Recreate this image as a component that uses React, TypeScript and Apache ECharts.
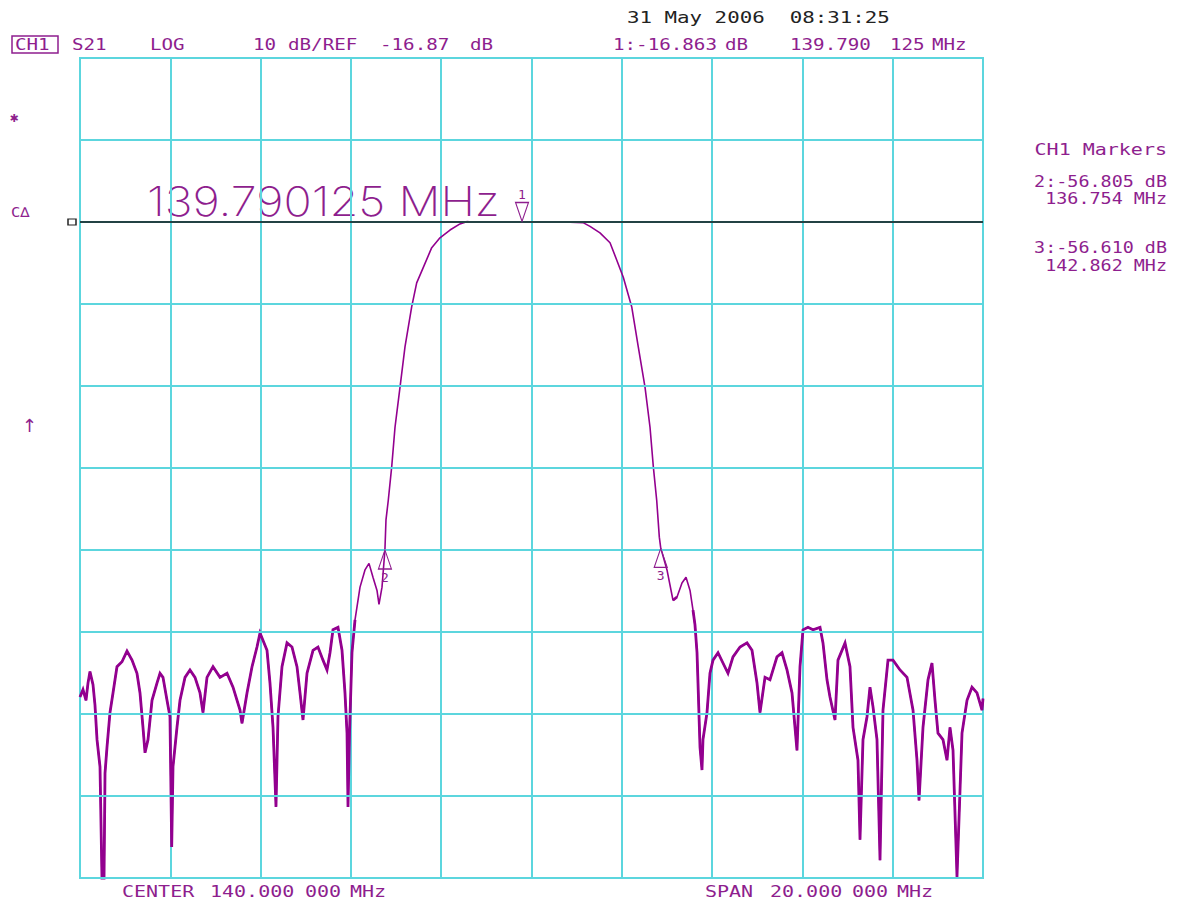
import React, { useEffect, useRef } from 'react';
import * as echarts from 'echarts';

// ---- Data (S21, LOG, 10 dB/div) ----
const FREQ_MHZ = [
  130.000, 130.066, 130.133, 130.177, 130.221, 130.288, 130.332, 130.377, 130.443, 130.487,
  130.532, 130.554, 130.598, 130.664, 130.731, 130.819, 130.930, 131.041, 131.152, 131.262,
  131.329, 131.395, 131.440, 131.506, 131.595, 131.705, 131.772, 131.838, 131.927, 131.993,
  132.031, 132.060, 132.148, 132.215, 132.326, 132.436, 132.547, 132.658, 132.724, 132.813,
  132.946, 133.101, 133.256, 133.389, 133.544, 133.588, 133.699, 133.810, 133.920, 133.987,
  134.142, 134.208, 134.275, 134.341, 134.385, 134.474, 134.585, 134.695, 134.806, 134.873,
  134.939, 135.028, 135.161, 135.271, 135.382, 135.471, 135.537, 135.603, 135.714, 135.803,
  135.869, 135.914, 135.936, 135.969, 136.024, 136.091, 136.202, 136.312, 136.401, 136.489,
  136.578, 136.622, 136.689, 136.754, 136.777, 136.828, 136.904, 136.977, 137.088, 137.198,
  137.347, 137.457, 137.604, 137.790, 137.973, 138.195, 138.416, 138.565, 138.748, 139.081,
  139.413, 139.790, 140.188, 140.520, 140.853, 141.141, 141.296, 141.517, 141.739, 141.887,
  142.033, 142.219, 142.365, 142.514, 142.625, 142.698, 142.773, 142.831, 142.862, 143.001,
  143.134, 143.223, 143.333, 143.422, 143.511, 143.577, 143.621, 143.666, 143.688, 143.732,
  143.776, 143.798, 143.887, 143.953, 144.020, 144.131, 144.241, 144.352, 144.463, 144.618,
  144.773, 144.884, 144.995, 145.061, 145.172, 145.282, 145.437, 145.548, 145.659, 145.770,
  145.836, 145.880, 145.947, 146.013, 146.124, 146.235, 146.390, 146.456, 146.545, 146.611,
  146.722, 146.788, 146.944, 147.054, 147.121, 147.231, 147.276, 147.342, 147.431, 147.497,
  147.564, 147.652, 147.719, 147.785, 147.896, 148.007, 148.162, 148.317, 148.450, 148.538,
  148.583, 148.671, 148.782, 148.870, 148.937, 149.003, 149.114, 149.203, 149.269, 149.336,
  149.424, 149.535, 149.646, 149.756, 149.867, 149.978, 150.000,
];
const S21_DB = [
  -74.8, -73.9, -75.2, -73.1, -71.7, -73.3, -75.8, -80.0, -83.3, -97.1,
  -97.1, -84.1, -80.9, -76.7, -74.3, -71.1, -70.5, -69.2, -70.3, -71.9,
  -74.3, -78.5, -81.6, -80.0, -75.2, -73.1, -71.9, -72.4, -75.2, -77.2,
  -93.1, -83.3, -78.5, -75.2, -72.4, -71.5, -72.4, -74.3, -76.7, -72.4,
  -71.1, -72.4, -71.9, -73.6, -76.4, -78.0, -74.3, -71.1, -68.7, -67.0,
  -69.1, -73.1, -78.5, -88.2, -77.2, -71.1, -68.2, -68.7, -71.1, -74.3,
  -77.6, -71.9, -69.1, -68.7, -70.3, -71.5, -69.4, -66.6, -66.3, -69.1,
  -74.3, -79.2, -88.2, -79.2, -69.4, -65.4, -61.4, -59.3, -58.5, -60.2,
  -61.8, -63.5, -61.4, -56.805, -53.2, -50.8, -46.7, -41.9, -37.0, -32.1,
  -27.2, -24.3, -22.4, -20.0, -18.8, -17.85, -17.1, -16.83, -16.9, -16.85,
  -16.9, -16.863, -16.88, -16.86, -16.9, -16.95, -17.4, -18.2, -19.4, -21.5,
  -23.6, -27.2, -32.1, -37.0, -41.9, -46.7, -50.8, -55.3, -56.61, -59.3,
  -63.0, -62.6, -60.9, -60.2, -61.8, -64.2, -66.0, -69.4, -73.1, -80.9,
  -83.7, -80.0, -76.7, -71.9, -70.3, -69.4, -70.65, -71.9, -69.9, -68.7,
  -68.2, -69.1, -73.1, -76.7, -72.4, -72.7, -69.9, -69.4, -71.5, -74.3,
  -78.5, -81.3, -71.1, -66.6, -66.3, -66.6, -66.3, -68.2, -72.7, -74.8,
  -77.6, -70.3, -68.2, -71.1, -78.5, -82.5, -92.2, -80.0, -77.2, -73.6,
  -76.0, -80.0, -94.7, -76.4, -70.3, -70.3, -71.5, -72.4, -76.4, -82.5,
  -87.4, -78.5, -72.7, -70.65, -75.2, -79.2, -80.0, -82.5, -78.5, -81.3,
  -96.75, -79.2, -75.2, -73.6, -74.3, -76.4, -75.0,
];

const MARKER_NAMES = ['1', '2', '3'];
const MARKER_FREQ_MHZ = [139.790125, 136.754, 142.862];
const MARKER_DB = [-16.863, -56.805, -56.61];

const START_MHZ = 130;
const STOP_MHZ = 150;
const FREQ_DIV_MHZ = 2;
const REF_DB = -16.87;
const DB_PER_DIV = 10;
const REF_DIV = 8; // reference position (divisions from bottom)
const N_DIV = 10;
const NOISE_FLOOR_DB = -62; // below this the trace is drawn as a fuzzy (thicker) noise line

const PURPLE = '#8e1e8e';
const TRACE = '#93008f';
const CYAN = '#5cd6de';
const MONO = '"DejaVu Sans Mono", monospace';

function txt(x: number, y: number, s: string, color: string, opts: any = {}) {
  const size = opts.size ?? 16;
  return {
    type: 'text',
    x,
    y,
    scaleX: opts.scaleX ?? 1.25,
    silent: true,
    style: {
      text: s,
      fill: color,
      font: `${opts.weight ?? 'normal'} ${size}px ${opts.family ?? MONO}`,
      textAlign: opts.align ?? 'left',
      textVerticalAlign: 'middle',
      verticalAlign: 'middle',
    },
  };
}

export default function App() {
  const ref = useRef<HTMLDivElement>(null);
  useEffect(() => {
    const chart = echarts.init(ref.current!, null, { renderer: 'svg' });
    const yMin = REF_DB - REF_DIV * DB_PER_DIV;
    const yMax = yMin + N_DIV * DB_PER_DIV;
    const levels: number[] = [];
    for (let k = 0; k <= N_DIV; k++) levels.push(yMin + k * DB_PER_DIV);

    const traceData = FREQ_MHZ.map((f, i) => [f, S21_DB[i]]);
    const noiseData = FREQ_MHZ.map((f, i) => [f, S21_DB[i] < NOISE_FLOOR_DB ? S21_DB[i] : null]);

    const option: any = {
      animation: false,
      backgroundColor: '#ffffff',
      grid: {
        left: 80,
        right: 201,
        top: 58,
        bottom: 28,
        show: true,
        borderColor: CYAN,
        borderWidth: 2,
      },
      xAxis: {
        type: 'value',
        min: START_MHZ,
        max: STOP_MHZ,
        interval: FREQ_DIV_MHZ,
        axisLine: { show: false },
        axisTick: { show: false },
        axisLabel: { show: false },
        splitLine: { show: true, lineStyle: { color: CYAN, width: 2 } },
      },
      yAxis: {
        type: 'value',
        min: yMin,
        max: yMax,
        axisLine: { show: false },
        axisTick: { show: false },
        axisLabel: { show: false },
        splitLine: { show: false },
      },
      series: [
        {
          type: 'line',
          name: 'grid',
          data: [],
          z: 1,
          silent: true,
          markLine: {
            silent: true,
            symbol: 'none',
            label: { show: false },
            lineStyle: { color: CYAN, width: 2, type: 'solid' },
            data: levels.map((v) => ({ yAxis: v })),
          },
        },
        {
          type: 'line',
          name: 'ref',
          data: [],
          z: 2,
          silent: true,
          markLine: {
            silent: true,
            symbol: 'none',
            label: { show: false },
            lineStyle: { color: '#111111', width: 1.5, type: 'solid' },
            data: [{ yAxis: REF_DB }],
          },
          markPoint: {
            silent: true,
            data: [
              {
                coord: [START_MHZ, REF_DB],
                symbol: 'rect',
                symbolSize: [8, 6],
                symbolOffset: [-8, 0],
                itemStyle: { color: '#ffffff', borderColor: '#222', borderWidth: 1.3 },
                label: { show: false },
              },
            ],
          },
        },
        {
          type: 'line',
          name: 'S21 noise',
          data: noiseData,
          connectNulls: false,
          showSymbol: false,
          symbol: 'none',
          clip: true,
          silent: true,
          z: 3,
          lineStyle: { color: TRACE, width: 2.8, join: 'miter' },
        },
        {
          type: 'line',
          name: 'S21',
          data: traceData,
          showSymbol: false,
          symbol: 'none',
          clip: true,
          z: 4,
          lineStyle: { color: TRACE, width: 1.6 },
          markPoint: {
            silent: true,
            data: MARKER_FREQ_MHZ.map((f, i) => ({
              coord: [f, MARKER_DB[i]],
              symbol: 'triangle',
              symbolSize: [13, 19],
              symbolRotate: i === 0 ? 180 : 0,
              symbolOffset: [0, i === 0 ? -10 : 10],
              itemStyle: { color: 'rgba(255,255,255,0)', borderColor: PURPLE, borderWidth: 1.2 },
              label: {
                show: true,
                formatter: MARKER_NAMES[i],
                position: i === 0 ? 'top' : 'bottom',
                distance: 1,
                color: PURPLE,
                fontSize: 13,
                fontFamily: MONO,
              },
            })),
          },
        },
      ],
      graphic: [
        txt(627, 17, '31 May 2006  08:31:25', '#222222', { size: 16, scaleX: 1.3 }),
        {
          type: 'rect',
          shape: { x: 12, y: 36, width: 46, height: 17 },
          style: { fill: 'none', stroke: PURPLE, lineWidth: 1.5 },
          silent: true,
        },
        txt(15, 45, 'CH1', PURPLE, { size: 16, scaleX: 1.2 }),
        txt(72, 45, 'S21', PURPLE, { size: 16, scaleX: 1.2 }),
        txt(150, 45, 'LOG', PURPLE, { size: 16, scaleX: 1.2 }),
        txt(253, 45, '10', PURPLE, { size: 16, scaleX: 1.2 }),
        txt(288, 45, 'dB/REF', PURPLE, { size: 16, scaleX: 1.2 }),
        txt(380, 45, '-16.87', PURPLE, { size: 16, scaleX: 1.2 }),
        txt(470, 45, 'dB', PURPLE, { size: 16, scaleX: 1.2 }),
        txt(613, 45, '1:-16.863', PURPLE, { size: 16, scaleX: 1.2 }),
        txt(725, 45, 'dB', PURPLE, { size: 16, scaleX: 1.2 }),
        txt(790, 45, '139.790', PURPLE, { size: 16, scaleX: 1.2 }),
        txt(890, 45, '125', PURPLE, { size: 16, scaleX: 1.2 }),
        txt(932, 45, 'MHz', PURPLE, { size: 16, scaleX: 1.2 }),
        txt(1167, 149, 'CH1 Markers', PURPLE, { size: 16, scaleX: 1.25, align: 'right' }),
        txt(1167, 181, '2:-56.805 dB', PURPLE, { size: 16, scaleX: 1.15, align: 'right' }),
        txt(1167, 198, '136.754 MHz', PURPLE, { size: 16, scaleX: 1.15, align: 'right' }),
        txt(1167, 247, '3:-56.610 dB', PURPLE, { size: 16, scaleX: 1.15, align: 'right' }),
        txt(1167, 265, '142.862 MHz', PURPLE, { size: 16, scaleX: 1.15, align: 'right' }),
        txt(10, 117, '✱', PURPLE, { size: 14, scaleX: 1.0 }),
        txt(11, 212, 'C∆', PURPLE, { size: 14, scaleX: 1.1 }),
        txt(22, 425, '↑', PURPLE, { size: 18, scaleX: 1.0, family: '"DejaVu Sans", sans-serif' }),
        txt(147, 201, '139.790125 MHz', PURPLE, { size: 41, scaleX: 1.14, family: 'Inter, "DejaVu Sans", sans-serif', weight: 200 }),
        txt(122, 891, 'CENTER', PURPLE, { size: 16, scaleX: 1.25 }),
        txt(210, 891, '140.000', PURPLE, { size: 16, scaleX: 1.25 }),
        txt(305, 891, '000', PURPLE, { size: 16, scaleX: 1.25 }),
        txt(350, 891, 'MHz', PURPLE, { size: 16, scaleX: 1.25 }),
        txt(705, 891, 'SPAN', PURPLE, { size: 16, scaleX: 1.25 }),
        txt(770, 891, '20.000', PURPLE, { size: 16, scaleX: 1.25 }),
        txt(852, 891, '000', PURPLE, { size: 16, scaleX: 1.25 }),
        txt(897, 891, 'MHz', PURPLE, { size: 16, scaleX: 1.25 }),
      ],
    };
    chart.setOption(option);
    return () => chart.dispose();
  }, []);
  return (
    <div
      ref={ref}
      style={{ position: 'fixed', left: 0, top: 0, width: 1184, height: 906, background: '#fff' }}
    />
  );
}
